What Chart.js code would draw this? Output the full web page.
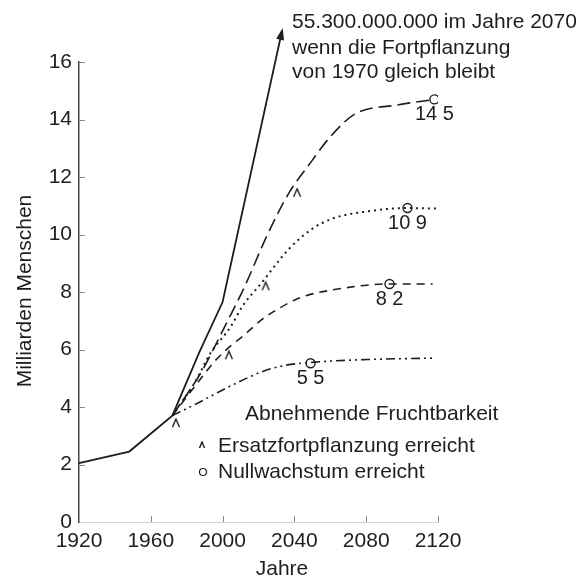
<!DOCTYPE html>
<html lang="de">
<head>
<meta charset="utf-8">
<title>Weltbevölkerung bis 2120</title>
<script src="https://cdn.jsdelivr.net/npm/chart.js@4.4.1/dist/chart.umd.min.js"></script>
<style>
  html, body { margin: 0; padding: 0; background: #fff; }
  #chart { display: block; }
</style>
</head>
<body>
<canvas id="chart" width="583" height="578"></canvas>
<script>
const ink = '#1e1e1e';
const fontFam = '"Liberation Sans", Arial, Helvetica, sans-serif';

// Achsen
const xTicks = [1920, 1960, 2000, 2040, 2080, 2120];
const yTicks = [0, 2, 4, 6, 8, 10, 12, 14, 16];

// bisheriger Verlauf, danach Fortpflanzung von 1970 gleichbleibend
const trendYears = [1920, 1948, 1972, 1987, 2000, 2033];
const trendVals = [2.05, 2.45, 3.7, 5.9, 7.65, 17.05];

// abnehmende Fruchtbarkeit, vier Varianten
const highYears = [1972, 1988, 1994, 2000, 2012, 2025, 2037, 2049, 2060, 2074, 2097, 2118];
const highVals = [3.7, 5.2, 5.9, 6.65, 8.15, 10.0, 11.45, 12.5, 13.4, 14.2, 14.5, 14.7];

const midHighYears = [1972, 1985, 1993, 2004.6, 2011, 2021.5, 2037, 2050, 2061, 2080, 2103, 2120];
const midHighVals = [3.7, 4.9, 5.85, 6.8, 7.5, 8.3, 9.5, 10.2, 10.55, 10.8, 10.92, 10.9];

const midLowYears = [1972, 1988, 1995, 2004, 2012, 2022, 2032, 2043, 2061, 2093, 2117];
const midLowVals = [3.7, 5.0, 5.55, 6.1, 6.5, 7.05, 7.45, 7.8, 8.07, 8.28, 8.28];

const lowYears = [1972, 1985, 2005, 2023, 2035, 2049, 2080, 2117];
const lowVals = [3.7, 4.1, 4.75, 5.25, 5.45, 5.55, 5.65, 5.7];

// Ersatzfortpflanzung erreicht (^)
const caretYears = [1974, 2003.5, 2024, 2041.5];
const caretVals = [3.44, 5.8, 8.2, 11.45];

// Nullwachstum erreicht (o)
const zeroYears = [2118, 2103, 2093, 2049];
const zeroVals = [14.7, 10.92, 8.28, 5.52];
const zeroLabels = ['14 5', '10 9', '8 2', '5 5'];

function pts(xs, ys) {
    return xs.map((x, i) => ({ x: x, y: ys[i] }));
}

function makeCaret(size) {
    const c = document.createElement('canvas');
    c.width = size;
    c.height = size;
    const g = c.getContext('2d');
    g.strokeStyle = ink;
    g.lineWidth = 1.4;
    g.beginPath();
    g.moveTo(1.5, size - 1);
    g.lineTo(size / 2, 1);
    g.lineTo(size - 1.5, size - 1);
    g.stroke();
    return c;
}
const caretImg = makeCaret(10);
const caretSmall = makeCaret(8);

function projLine(data, dash, width) {
    return {
        data: data,
        borderColor: ink,
        borderWidth: width,
        borderDash: dash,
        pointRadius: 0,
        fill: false,
        cubicInterpolationMode: 'monotone'
    };
}

const decor = {
    id: 'decor',
    afterDraw(chart) {
        const ctx = chart.ctx;
        const xs = chart.scales.x;
        const ys = chart.scales.y;
        const area = chart.chartArea;
        ctx.save();

        // kurze Teilstriche nach innen
        ctx.strokeStyle = '#8a8a8a';
        ctx.lineWidth = 1;
        xTicks.slice(1).forEach(v => {
            const px = Math.round(xs.getPixelForValue(v)) + 0.5;
            ctx.beginPath();
            ctx.moveTo(px, area.bottom);
            ctx.lineTo(px, area.bottom - 6);
            ctx.stroke();
        });
        yTicks.slice(1).forEach(v => {
            const py = Math.round(ys.getPixelForValue(v)) + 0.5;
            ctx.beginPath();
            ctx.moveTo(area.left, py);
            ctx.lineTo(area.left + 6, py);
            ctx.stroke();
        });

        // Pfeilspitze am Ende der Trendlinie
        const meta = chart.getDatasetMeta(0).data;
        const a = meta[meta.length - 2];
        const b = meta[meta.length - 1];
        const ang = Math.atan2(b.y - a.y, b.x - a.x);
        ctx.fillStyle = ink;
        ctx.beginPath();
        ctx.moveTo(b.x + Math.cos(ang) * 4, b.y + Math.sin(ang) * 4);
        ctx.lineTo(b.x - Math.cos(ang) * 8 - Math.sin(ang) * 4, b.y - Math.sin(ang) * 8 + Math.cos(ang) * 4);
        ctx.lineTo(b.x - Math.cos(ang) * 8 + Math.sin(ang) * 4, b.y - Math.sin(ang) * 8 - Math.cos(ang) * 4);
        ctx.closePath();
        ctx.fill();

        ctx.fillStyle = ink;
        ctx.textAlign = 'left';
        ctx.textBaseline = 'alphabetic';
        ctx.font = '21px ' + fontFam;
        ctx.fillText('55.300.000.000 im Jahre 2070', 292, 28);
        ctx.fillText('wenn die Fortpflanzung', 292, 54);
        ctx.fillText('von 1970 gleich bleibt', 292, 78);

        ctx.fillText('Abnehmende Fruchtbarkeit', 245, 420);
        ctx.fillText('Ersatzfortpflanzung erreicht', 218, 452);
        ctx.fillText('Nullwachstum erreicht', 218, 478);
        ctx.drawImage(caretSmall, 198, 441);
        ctx.strokeStyle = ink;
        ctx.lineWidth = 1.2;
        ctx.beginPath();
        ctx.arc(203, 472, 3.5, 0, Math.PI * 2);
        ctx.stroke();

        // Werte bei Nullwachstum
        ctx.textAlign = 'center';
        ctx.font = '20px ' + fontFam;
        zeroLabels.forEach((t, i) => {
            const px = xs.getPixelForValue(zeroYears[i]);
            const py = ys.getPixelForValue(zeroVals[i]);
            ctx.fillText(t, px, py + 21);
        });

        // Achsentitel
        ctx.font = '21px ' + fontFam;
        ctx.fillText('Jahre', 282, 575);
        ctx.translate(25, 291);
        ctx.rotate(-Math.PI / 2);
        ctx.textBaseline = 'middle';
        ctx.fillText('Milliarden Menschen', 0, 0);
        ctx.restore();
    }
};

new Chart(document.getElementById('chart'), {
    type: 'line',
    data: {
        datasets: [
            {
                data: pts(trendYears, trendVals),
                borderColor: ink,
                borderWidth: 1.8,
                pointRadius: 0,
                fill: false,
                tension: 0,
                clip: false
            },
            projLine(pts(highYears, highVals), [13, 6], 1.6),
            projLine(pts(midHighYears, midHighVals), [2, 4], 2),
            projLine(pts(midLowYears, midLowVals), [8, 6], 1.6),
            projLine(pts(lowYears, lowVals), [9, 4, 2, 4, 2, 4], 1.6),
            {
                data: pts(caretYears, caretVals),
                showLine: false,
                pointStyle: caretImg,
                pointRadius: 5
            },
            {
                data: pts(zeroYears, zeroVals),
                showLine: false,
                pointStyle: 'circle',
                pointRadius: 4.5,
                pointBorderWidth: 1.4,
                pointBorderColor: ink,
                pointBackgroundColor: '#fff'
            }
        ]
    },
    options: {
        responsive: false,
        animation: false,
        events: [],
        layout: { padding: { top: 62, right: 145, left: 0, bottom: 0 } },
        plugins: {
            legend: { display: false },
            tooltip: { enabled: false }
        },
        scales: {
            x: {
                type: 'linear',
                min: 1920,
                max: 2120,
                afterBuildTicks: s => { s.ticks = xTicks.map(v => ({ value: v })); },
                afterFit: s => { s.height = 56; },
                grid: { display: false, drawTicks: false },
                border: { display: true, color: '#d4d4d4', width: 1 },
                ticks: {
                    color: ink,
                    padding: 7,
                    maxRotation: 0,
                    font: { family: fontFam, size: 21 },
                    callback: v => String(v)
                }
            },
            y: {
                min: 0,
                max: 16,
                afterBuildTicks: s => { s.ticks = yTicks.map(v => ({ value: v })); },
                afterFit: s => { s.width = 79; },
                grid: { display: false, drawTicks: false },
                border: { display: true, color: '#444', width: 1.5 },
                ticks: {
                    color: ink,
                    padding: 7,
                    font: { family: fontFam, size: 21 },
                    callback: v => String(v)
                }
            }
        }
    },
    plugins: [decor]
});
</script>
</body>
</html>
